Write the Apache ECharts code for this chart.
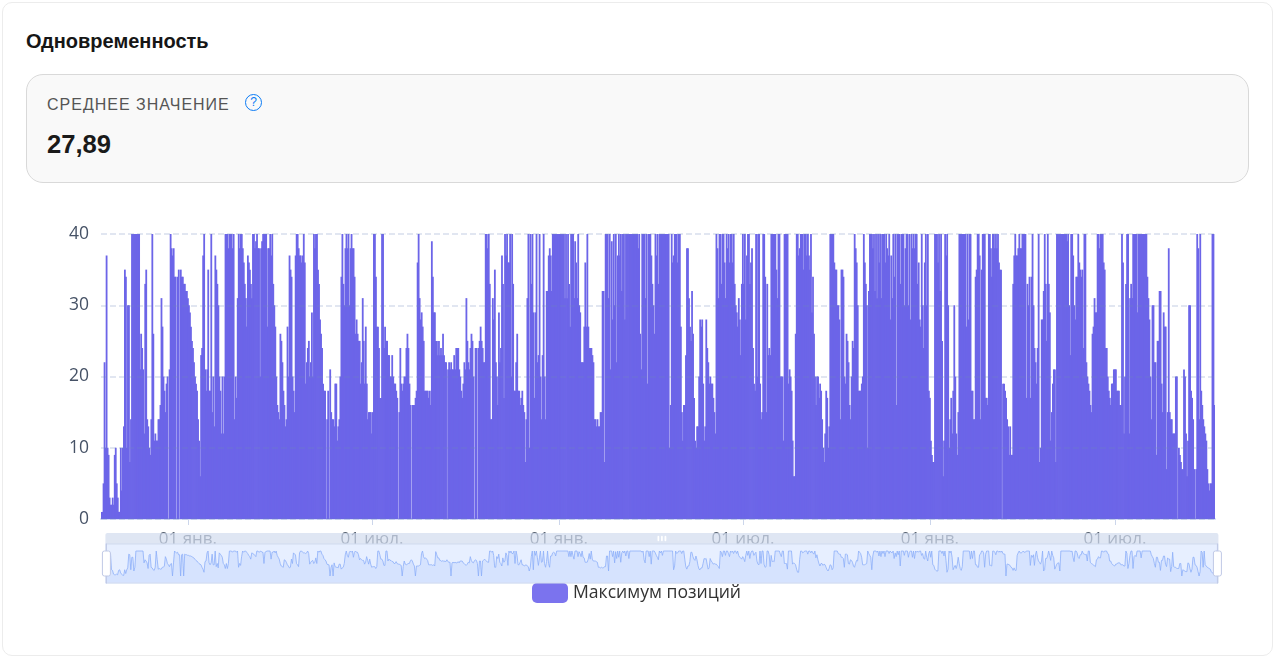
<!DOCTYPE html>
<html lang="ru"><head><meta charset="utf-8">
<script src="https://cdn.jsdelivr.net/npm/echarts@6/dist/echarts.min.js"></script>
<style>
html,body{margin:0;padding:0;background:#fff;width:1280px;height:661px;overflow:hidden;font-family:"Liberation Sans",Arial,sans-serif}
#card{position:absolute;left:2px;top:2px;width:1269px;height:652px;border:1px solid #ececec;border-radius:10px}
#title{position:absolute;left:26px;top:30px;font-size:20px;font-weight:700;color:#161616;line-height:22px}
#box{position:absolute;left:26px;top:74px;width:1221px;height:107px;border:1px solid #d9d9d9;border-radius:17px;background:#f9f9f9}
#lab{position:absolute;left:47px;top:95px;font-size:16px;letter-spacing:1px;color:#555;line-height:20px}
#val{position:absolute;left:47px;top:130px;font-size:25.6px;font-weight:700;color:#1a1a1a;line-height:28px}
#help{position:absolute;left:245px;top:94px;width:17px;height:17px;box-sizing:border-box;border:1.8px solid #0b7bf5;border-radius:50%;color:#0b7bf5;font-size:12px;line-height:14px;text-align:center}
#chart{position:absolute;left:0;top:0;width:1280px;height:661px}
</style></head><body>
<div id="card"></div>
<div id="title">Одновременность</div>
<div id="box"></div>
<div id="lab">СРЕДНЕЕ ЗНАЧЕНИЕ</div>
<div id="help">?</div>
<div id="val">27,89</div>
<div id="chart"></div>
<script>
var seriesName = 'Максимум позиций';
var firstDay = '2021-10-08';
var months = ['янв.','фев.','мар.','апр.','мая','июн.','июл.','авг.','сен.','окт.','ноя.','дек.'];
var valuesA = [1,1,5,22,10,37,10,9,3,2,2,3,2,9,10,5,3,1,1,10,
4,10,13,35,34,10,30,30,8,14,40,40,40,40,40,40,40,40,21,26,
24,21,12,33,35,14,13,10,9,14,40,26,11,12,11,11,14,14,16,
31,27,20,18,15,19,20,0,21,40,38,37,38,34,34,0,34,35,0,35,
34,34,33,33,32,32,31,30,29,27,25,24,22,20,19,18,14,11,6,
23,24,37,40,21,18,21,35,18,18,40,15,20,13,37,35,33,30,20,18,
12,20,12,20,40,40,40,38,40,40,40,38,40,14,20,17,31,40,38,40,
40,38,36,33,31,27,37,36,35,33,31,40,40,38,39,40,38,38,20,
38,39,40,40,40,40,27,38,38,40,37,40,33,30,27,20,16,15,14,
26,25,22,18,16,13,14,27,20,37,35,34,20,18,15,37,40,40,38,
37,37,36,37,40,36,19,22,24,25,20,22,29,20,40,38,40,40,35,33,
28,26,24,19,18,18,0,14,18,0,21,15,14,14,13,19,19,11,13,
14,20,34,40,33,30,38,40,38,40,30,38,40,38,38,34,26,28,26,25];
var valuesB = [25,19,22,31,25,19,27,19,14,15,15,15,12,15,40,40,34,27,27,24,
17,17,40,40,24,27,25,25,23,23,20,20,23,20,19,19,18,17,0,15,
24,19,18,19,20,20,24,26,24,19,16,0,16,16,16,17,18,36,40,31,
28,29,27,25,18,18,18,18,17,18,16,39,34,29,29,25,25,23,25,23,
24,23,26,23,22,22,0,21,22,21,22,21,21,23,21,24,24,24,21,20,
18,17,19,22,21,31,25,22,21,24,26,25,20,0,24,24,0,24,25,27,
25,24,22,22,40,40,38,40,33,14,14,31,28,35,22,20,16,29,22,24,
37,33,17,40,37,40,36,36,40,20,40,33,18,18,22,26,18,18,16,17,
18,16,15,8,14,31,40,10,40,33,40,29,17,29,40,22,23,40,20,14,
23,40,20,14,32,32,37,38,37,32,40,40,40,40,40,40,40,40,40,40,
40,40,31,40,31,40,33,27,40,40,40,31,39,36,31,40,30,29,22,22,
22,27,36,27,40,27,24,24,24,23,22,14,14,13,14,13,13,15,15,32,
32,8,40,40,40,31,40,21,39,28,40,30,40,22,37,40,37,40,32,40,
40,28,40,40,40,40,40,40,40,40,40,40,40,40,38,40,26,21,40,40,
40,31,40,19,40,40,40,37,33,30,26,40,37,40,33];
var valuesC = [40,40,40,40,40,40,40,40,40,40,10,16,40,36,37,40,40,40,36,40,
40,27,15,11,16,16,23,38,38,31,27,25,32,26,17,11,10,13,13,20,
28,27,28,19,11,13,28,24,22,19,20,19,19,17,15,12,40,38,31,40,
40,33,40,40,36,31,40,38,40,36,40,40,36,40,33,30,29,27,31,28,
23,33,40,33,40,28,37,40,40,33,36,38,24,19,18,40,20,40,40,19,
14,15,40,40,34,15,33,23,24,23,40,40,40,40,40,35,31,40,40,20,
20,20,11,40,40,40,40,19,21,20,18,11,6,6,26,40,40,37,38,40,
40,40,35,40,40,37,40,37,35,40,29,34,26,20,16,20,20,17,19,18,
14,10,8,12,18,17,10,13,40,40,40,40,36,35,35,30,30,28,14,35,
35,34,20,19,26,25,22,16,14,20,25,24,40,38,36,30,18,18,18,19,
20,40,36,33,30,10,32,40,40,40,38,40,32,40,31,40,36,40,31,40,
40,40,36,40,38,37,40,28,37,31,40,34,40,16,40,40,40,33,40,40,
40,30,38,40,40,30,40,28,40,38,40,38,40,40,33,36,28,27,40,30,
24,36,40,30,40,18,17,11,9,8,8,40,40,40,36,40,32,40,25,6,
11,40,37,40,30];
var valuesD = [10,14,17,12,18,30,20,12,9,15,40,40,40,40,40,40,40,27,40,28,
40,40,18,18,14,14,34,35,40,40,37,14,35,40,40,40,17,17,16,40,
40,38,34,40,40,38,40,38,40,36,35,35,0,19,19,18,17,14,13,9,
13,9,9,33,37,40,37,37,38,40,38,38,40,40,40,40,17,33,30,34,
17,34,40,30,24,22,19,24,40,8,10,28,28,32,40,33,25,40,33,29,
11,15,19,21,21,8,40,40,40,40,40,40,40,40,40,40,39,40,30,23,
40,40,37,30,28,34,34,40,36,35,34,35,24,40,40,22,20,19,18,16,
15,26,27,31,29,29,40,40,38,40,40,40,36,35,24,24,20,18,17,16,
19,19,21,21,21,18,18,18,16,16,40,36,12,20,33,40,40,12,31,33,
31,40,40,40,40,29,40,40,40,40,40,40,40,40,40,34,31,28,20,14,
30,30,22,22,9,25,25,32,32,19,15,29,27,27,7,15,38,15,14,14,
12,12,12,20,20,0,10,9,8,7,7,21,20,12,6,11,30,30,18,17,
14,7,0,7,40,38,14,40,18,16,14,13,12,11,7,5,4,5,5,40,40,16];
var values = valuesA.concat(valuesB, valuesC, valuesD);
var categories = [];
for (var i = 0; i < values.length; i++) {
  var d = new Date(Date.parse(firstDay + 'T00:00:00Z') + i * 864e5);
  categories.push(d.toISOString().slice(0, 10));
}
function isHalfYear(idx, val) {
  var m = val.slice(5);
  return m === '01-01' || m === '07-01';
}
var chart = echarts.init(document.getElementById('chart'), null, {renderer: 'canvas'});
chart.setOption({
  animation: false,
  backgroundColor: 'transparent',
  grid: {left: 101, right: 65, top: 234, bottom: 142},
  legend: {
    data: [seriesName], left: 527, top: 578, itemWidth: 36, itemHeight: 20, itemGap: 9,
    textStyle: {fontFamily: '"Open Sans"', fontSize: 17.6, color: '#333'},
    itemStyle: {color: '#7b73ee'}
  },
  xAxis: {
    type: 'category', data: categories, boundaryGap: true,
    axisLine: {lineStyle: {color: '#d5dcf5', width: 2}},
    axisTick: {show: true, length: 6, alignWithLabel: true, interval: isHalfYear, lineStyle: {color: '#ccd6eb'}},
    axisLabel: {
      interval: isHalfYear, margin: 12, hideOverlap: false,
      fontFamily: '"Open Sans"', fontSize: 17, color: '#55606f',
      formatter: function (v) { return v.slice(8) + ' ' + months[+v.slice(5, 7) - 1]; }
    },
    splitLine: {show: false}
  },
  yAxis: {
    type: 'value', min: 0, max: 40, interval: 10, z: 5,
    axisLine: {show: false}, axisTick: {show: false},
    axisLabel: {margin: 12, fontFamily: '"Open Sans"', fontSize: 17.5, color: '#465266'},
    splitLine: {show: true, lineStyle: {type: 'dashed', color: 'rgba(110,135,190,0.28)', width: 1.5}}
  },
  dataZoom: [{
    type: 'slider', start: 0, end: 100, left: 101, right: 66, top: 533, height: 40,
    moveHandleSize: 11, showDetail: false,
    moveHandleStyle: {color: '#d2dbee', opacity: 0.7},
    fillerColor: 'rgba(135,175,274,0.2)',
    borderColor: '#d2dbee',
    dataBackground: {lineStyle: {color: '#d2dbee', width: 0.5}, areaStyle: {color: '#d2dbee', opacity: 0.2}},
    selectedDataBackground: {lineStyle: {color: '#8fb0f7', width: 0.8}, areaStyle: {color: '#8fb0f7', opacity: 0.2}}
  }],
  series: [{
    name: seriesName, type: 'bar', data: values, barWidth: 1.8,
    itemStyle: {color: '#6c65e8'}, clip: true, z: 3
  }]
});
</script>
</body></html>
